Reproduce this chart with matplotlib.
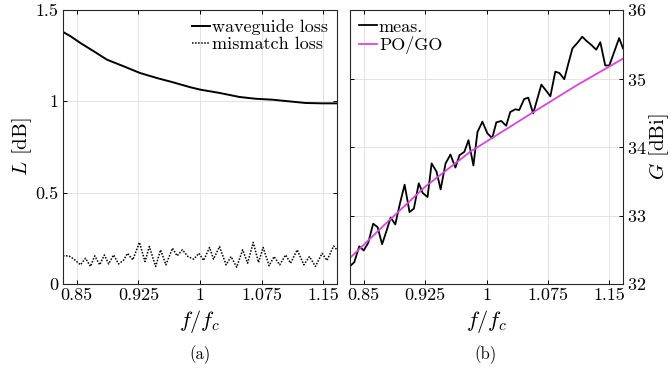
import numpy as np
import matplotlib
matplotlib.use("Agg")
import matplotlib.pyplot as plt

plt.rcParams['font.family'] = ['cmr10', 'DejaVu Serif']
plt.rcParams['mathtext.fontset'] = 'cm'
plt.rcParams['axes.unicode_minus'] = False
plt.rcParams['axes.formatter.use_mathtext'] = True

# (a) losses, x read as pixel columns of the reference then mapped to f/fc
wg_zx = [67, 90, 120, 160, 200, 250, 300, 350, 400, 450, 482, 540, 600, 650, 700,
         750, 800, 850, 895]
wg_loss = [1.380, 1.356, 1.319, 1.274, 1.228, 1.192, 1.155, 1.128, 1.104, 1.078,
           1.064, 1.046, 1.024, 1.014, 1.009, 1.000, 0.991, 0.989, 0.989]
wg_x = [0.8333 + (z - 67) * 0.3333 / 828 for z in wg_zx]

mm_zx = [67, 85, 100, 120, 135, 150, 163, 178, 192, 205, 220, 235, 250, 262, 278,
         298, 315, 328, 347, 362, 378, 398, 412, 428, 445, 462, 478, 492, 510, 522,
         540, 560, 575, 592, 610, 625, 642, 658, 672, 690, 705, 722, 740, 755, 775,
         795, 812, 830, 850, 865, 885, 895]
mm_loss = [0.154, 0.154, 0.136, 0.105, 0.141, 0.096, 0.154, 0.105, 0.159, 0.110,
           0.159, 0.110, 0.130, 0.168, 0.132, 0.228, 0.123, 0.205, 0.096, 0.187,
           0.105, 0.196, 0.154, 0.187, 0.150, 0.136, 0.168, 0.129, 0.200, 0.136,
           0.205, 0.105, 0.150, 0.092, 0.187, 0.114, 0.228, 0.118, 0.200, 0.100,
           0.150, 0.105, 0.159, 0.114, 0.187, 0.105, 0.150, 0.096, 0.168, 0.129,
           0.208, 0.187]
mm_x = [0.8333 + (z - 67) * 0.3333 / 828 for z in mm_zx]

# (b) gain
meas_x = [0.8333, 0.8386, 0.8446, 0.850, 0.8555, 0.8616, 0.867, 0.8725, 0.878, 0.883,
          0.8886, 0.894, 0.900, 0.906, 0.9113, 0.9173, 0.922, 0.928, 0.933, 0.939,
          0.944, 0.950, 0.956, 0.962, 0.967, 0.973, 0.978, 0.984, 0.989, 0.995,
          1.001, 1.007, 1.012, 1.018, 1.024, 1.029, 1.035, 1.040, 1.046, 1.051,
          1.057, 1.062, 1.067, 1.073, 1.078, 1.084, 1.089, 1.095, 1.100, 1.105,
          1.111, 1.117, 1.122, 1.128, 1.134, 1.139, 1.145, 1.150, 1.156, 1.162,
          1.1667]
meas_gain = [32.26, 32.32, 32.55, 32.49, 32.60, 32.88, 32.83, 32.58, 32.78, 32.97,
             32.87, 33.16, 33.45, 33.05, 33.10, 33.47, 33.33, 33.27, 33.76, 33.64,
             33.38, 33.76, 33.89, 33.70, 33.88, 33.93, 34.10, 33.73, 34.22, 34.37,
             34.20, 34.13, 34.36, 34.38, 34.31, 34.51, 34.55, 34.54, 34.70, 34.72,
             34.49, 34.70, 34.91, 34.82, 34.74, 35.10, 35.08, 34.99, 35.22, 35.44,
             35.52, 35.61, 35.55, 35.49, 35.42, 35.53, 35.19, 35.19, 35.39, 35.59,
             35.44]
pogo_x = [0.8333, 0.875, 0.925, 0.98, 1.0, 1.056, 1.11, 1.1667]
pogo_gain = [32.38, 32.86, 33.42, 33.93, 34.08, 34.50, 34.90, 35.29]

xticks = [0.85, 0.925, 1.0, 1.075, 1.15]
xticklabels = ['0.85', '0.925', '1', '1.075', '1.15']

fig = plt.figure(figsize=(6.71, 3.71), dpi=100)
ax1 = fig.add_axes([63 / 671, 1 - 284 / 371, 274 / 671, 274 / 371])
ax2 = fig.add_axes([350 / 671, 1 - 284 / 371, 273 / 671, 274 / 371])

grid_kw = dict(color='#e3e3e3', linewidth=0.7)

ax1.plot(wg_x, wg_loss, color='black', linewidth=1.4, label='waveguide loss')
ax1.plot(mm_x, mm_loss, color='black', linewidth=1.1, linestyle=(0, (1, 1)),
         label='mismatch loss')
ax1.set_xlim(0.8333, 1.1667)
ax1.set_ylim(0, 1.5)
ax1.set_yticks([0, 0.5, 1, 1.5])
ax1.set_yticklabels(['0', '0.5', '1', '1.5'])
ax1.set_ylabel('$L$ [dB]', fontsize=15, labelpad=1)
ax1.set_xlabel('$f/f_c$', fontsize=16, labelpad=3)
ax1.legend(loc='upper right', frameon=False, fontsize=13, handlelength=1.0,
           handletextpad=0.1, borderaxespad=0.1, labelspacing=0.1)

ax2.plot(meas_x, meas_gain, color='black', linewidth=1.3, label='meas.')
ax2.plot(pogo_x, pogo_gain, color='#dd44dd', linewidth=1.3, label='PO/GO')
ax2.set_xlim(0.8333, 1.1667)
ax2.set_ylim(32, 36)
ax2.set_yticks([32, 33, 34, 35, 36])
ax2.yaxis.tick_right()
ax2.yaxis.set_label_position('right')
ax2.set_ylabel('$G$ [dBi]', fontsize=15, labelpad=0)
ax2.set_xlabel('$f/f_c$', fontsize=16, labelpad=3)
ax2.legend(loc='upper left', frameon=False, fontsize=13, handlelength=1.0,
           handletextpad=0.1, borderaxespad=0.1, labelspacing=0.1)

for ax in (ax1, ax2):
    ax.set_xticks(xticks)
    ax.set_xticklabels(xticklabels)
    ax.grid(True, **grid_kw)
    ax.set_axisbelow(True)
    ax.tick_params(direction='in', length=3, width=0.7, labelsize=13, pad=3,
                   top=True, bottom=True, left=True, right=True)
    for s in ax.spines.values():
        s.set_linewidth(0.8)
        s.set_color('#262626')

fig.text(200 / 671, 1 - 355 / 371, '(a)', ha='center', va='center', fontsize=12)
fig.text(486 / 671, 1 - 355 / 371, '(b)', ha='center', va='center', fontsize=12)

fig.savefig('out.png', dpi=100)
